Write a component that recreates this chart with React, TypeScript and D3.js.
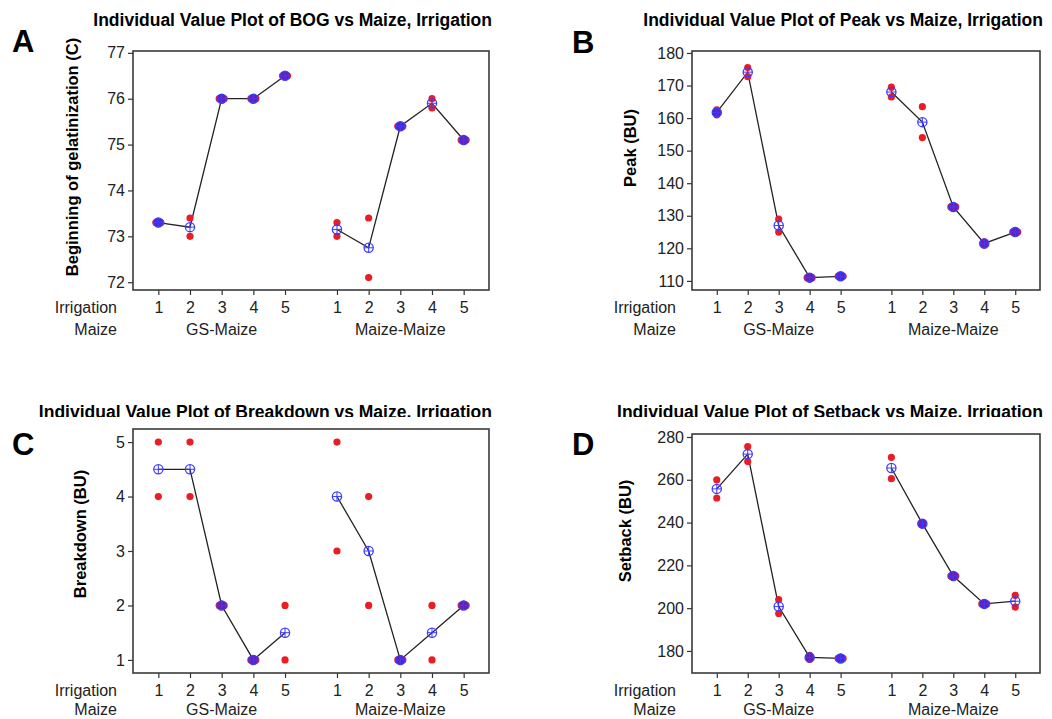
import React, { useRef, useEffect } from "react";
import * as d3 from "d3";

// category labels
const irrigation = ["1", "2", "3", "4", "5"];
const maizeGroups = ["GS-Maize", "Maize-Maize"];

// replicate values for each irrigation level (two replicates)
const bogGS = [[73.3, 73.3], [73.4, 73.0], [76.0, 76.0], [76.0, 76.0], [76.5, 76.5]];
const bogMM = [[73.3, 73.0], [73.4, 72.1], [75.4, 75.4], [76.0, 75.8], [75.1, 75.1]];
const bogTicks = [72, 73, 74, 75, 76, 77];

const peakGS = [[162.5, 161], [175.5, 172.7], [129, 125], [111, 111], [111.4, 111.4]];
const peakMM = [[169.5, 166.5], [163.5, 154], [132.7, 132.7], [122, 121], [125, 125]];
const peakTicks = [110, 120, 130, 140, 150, 160, 170, 180];

const breakdownGS = [[5, 4], [5, 4], [2, 2], [1, 1], [2, 1]];
const breakdownMM = [[5, 3], [4, 2], [1, 1], [2, 1], [2, 2]];
const breakdownTicks = [1, 2, 3, 4, 5];

const setbackGS = [[260, 251.5], [275.5, 268.5], [204, 197.5], [178, 176], [176.5, 176.5]];
const setbackMM = [[270.5, 260.5], [240, 239], [215, 215], [202, 202], [206, 200.5]];
const setbackTicks = [180, 200, 220, 240, 260, 280];

type Box = { x0: number; x1: number; y0: number; y1: number };
type Panel = {
    letter: string;
    title: string;
    ylabel: string;
    groups: number[][][];
    ticks: number[];
    domain: [number, number];
    box: Box;
    titleY: number;
    letterPos: [number, number];
    ylabelPos: [number, number];
    clipTitle: boolean;
    rowGap: number;
};

const panels: Panel[] = [
    {
        letter: "A", title: "Individual Value Plot of BOG vs Maize, Irrigation",
        ylabel: "Beginning of gelatinization (C)", groups: [bogGS, bogMM], ticks: bogTicks,
        domain: [71.83, 77.04], box: { x0: 133, x1: 489, y0: 51, y1: 290 },
        titleY: 26, letterPos: [12, 52], ylabelPos: [72, 157], clipTitle: false, rowGap: 45,
    },
    {
        letter: "B", title: "Individual Value Plot of Peak vs Maize, Irrigation",
        ylabel: "Peak (BU)", groups: [peakGS, peakMM], ticks: peakTicks,
        domain: [107.2, 180.6], box: { x0: 692, x1: 1040, y0: 51, y1: 290 },
        titleY: 26, letterPos: [572, 53], ylabelPos: [630, 148], clipTitle: false, rowGap: 45,
    },
    {
        letter: "C", title: "Individual Value Plot of Breakdown vs Maize, Irrigation",
        ylabel: "Breakdown (BU)", groups: [breakdownGS, breakdownMM], ticks: breakdownTicks,
        domain: [0.76, 5.24], box: { x0: 133, x1: 489, y0: 429, y1: 673 },
        titleY: 418, letterPos: [12, 455], ylabelPos: [80, 534], clipTitle: true, rowGap: 42,
    },
    {
        letter: "D", title: "Individual Value Plot of Setback vs Maize, Irrigation",
        ylabel: "Setback (BU)", groups: [setbackGS, setbackMM], ticks: setbackTicks,
        domain: [169.7, 281.4], box: { x0: 692, x1: 1040, y0: 434, y1: 673 },
        titleY: 418, letterPos: [572, 455], ylabelPos: [625, 531], clipTitle: true, rowGap: 42,
    },
];

const FONT = "'Liberation Sans', Arial, sans-serif";
const GROUP_STEP = 5.64; // gap between the two maize groups, in slot units

const App = () => {
    const svgRef = useRef<SVGSVGElement>(null);

    useEffect(() => {
        const svg = d3.select(svgRef.current);
        svg.selectAll("*").remove();

        svg.append("rect").attr("width", 1052).attr("height", 719).attr("fill", "#fff");

        // clip for the bottom titles, which are cut at their baseline
        svg.append("defs").append("clipPath").attr("id", "titleClip")
            .append("rect").attr("x", 0).attr("y", 380).attr("width", 1052).attr("height", 37);

        panels.forEach(p => drawPanel(svg, p));
    }, []);

    const drawPanel = (svg: any, p: Panel) => {
        const b = p.box;
        const x = d3.scaleLinear().domain([-0.8, 4 + GROUP_STEP + 0.8]).range([b.x0, b.x1]);
        const y = d3.scaleLinear().domain(p.domain).range([b.y1, b.y0]);
        const slot = (g: number, i: number) => g * GROUP_STEP + i;

        const g = svg.append("g");

        // letter
        g.append("text")
            .attr("x", p.letterPos[0]).attr("y", p.letterPos[1])
            .attr("font-family", FONT).attr("font-weight", "bold").attr("font-size", 31)
            .attr("fill", "#000").text(p.letter);

        // title
        g.append("text")
            .attr("x", b.x1 + 3).attr("y", p.titleY)
            .attr("text-anchor", "end")
            .attr("font-family", FONT).attr("font-weight", "bold").attr("font-size", 17.5)
            .attr("fill", "#000")
            .attr("clip-path", p.clipTitle ? "url(#titleClip)" : null)
            .text(p.title);

        // y label
        g.append("text")
            .attr("transform", `translate(${p.ylabelPos[0]},${p.ylabelPos[1]}) rotate(-90)`)
            .attr("text-anchor", "middle")
            .attr("dominant-baseline", "central")
            .attr("font-family", FONT).attr("font-weight", "bold").attr("font-size", 16.5)
            .attr("fill", "#000").text(p.ylabel);

        // y axis
        const yAxis = g.append("g")
            .attr("transform", `translate(${b.x0},0)`)
            .call(d3.axisLeft(y).tickValues(p.ticks).tickFormat(d3.format("d"))
                .tickSize(5).tickPadding(3).tickSizeOuter(0));
        yAxis.select(".domain").remove();
        yAxis.attr("font-family", FONT).attr("font-size", 16);
        yAxis.selectAll("line").attr("stroke", "#333").attr("stroke-width", 1.2);
        yAxis.selectAll("text").attr("fill", "#222");

        // x axis (irrigation levels in both maize groups)
        const slots = p.groups.flatMap((_, gi) => irrigation.map((_, i) => slot(gi, i)));
        const xAxis = g.append("g")
            .attr("transform", `translate(0,${b.y1})`)
            .call(d3.axisBottom(x).tickValues(slots).tickSize(5).tickPadding(6.6)
                .tickFormat((_, i) => irrigation[i % irrigation.length]));
        xAxis.select(".domain").remove();
        xAxis.attr("font-family", FONT).attr("font-size", 16);
        xAxis.selectAll("line").attr("stroke", "#333").attr("stroke-width", 1.2);
        xAxis.selectAll("text").attr("fill", "#222");

        // row labels
        g.append("text")
            .attr("x", b.x0 - 16).attr("y", b.y1 + 23)
            .attr("text-anchor", "end").attr("font-family", FONT).attr("font-size", 16)
            .attr("fill", "#222").text("Irrigation");
        g.append("text")
            .attr("x", b.x0 - 16).attr("y", b.y1 + p.rowGap)
            .attr("text-anchor", "end").attr("font-family", FONT).attr("font-size", 16)
            .attr("fill", "#222").text("Maize");
        maizeGroups.forEach((name, gi) => {
            g.append("text")
                .attr("x", x(slot(gi, 2))).attr("y", b.y1 + p.rowGap)
                .attr("text-anchor", "middle").attr("font-family", FONT).attr("font-size", 16)
                .attr("fill", "#222").text(name);
        });

        // frame
        g.append("rect")
            .attr("x", b.x0).attr("y", b.y0)
            .attr("width", b.x1 - b.x0).attr("height", b.y1 - b.y0)
            .attr("fill", "none").attr("stroke", "#3a3a3a").attr("stroke-width", 1.6);

        p.groups.forEach((levels, gi) => {
            const means = levels.map((vals, i) => ({ s: slot(gi, i), m: d3.mean(vals) as number, vals }));

            // mean connect line
            const line = d3.line<any>().x(d => x(d.s)).y(d => y(d.m));
            g.append("path")
                .datum(means)
                .attr("d", line)
                .attr("fill", "none")
                .attr("stroke", "#222")
                .attr("stroke-width", 1.3);

            // individual values
            means.forEach(d => {
                d.vals.forEach((v, k) => {
                    const dup = d.vals.filter(w => w === v).length > 1;
                    const off = dup ? (k === 0 ? -2.5 : 2.5) : 0;
                    g.append("circle")
                        .attr("cx", x(d.s) + off).attr("cy", y(v))
                        .attr("r", 3.6)
                        .attr("fill", "#ec1c24");
                });
            });

            // mean symbols
            means.forEach(d => {
                const cx = x(d.s), cy = y(d.m);
                const covered = d.vals.some(v => Math.abs(y(v) - cy) < 3.5);
                g.append("circle")
                    .attr("cx", cx).attr("cy", cy).attr("r", 4.6)
                    .attr("fill", covered ? "#6420b8" : "none")
                    .attr("stroke", "#3c3cff").attr("stroke-width", 1.3);
                g.append("line")
                    .attr("x1", cx - 4.6).attr("x2", cx + 4.6).attr("y1", cy).attr("y2", cy)
                    .attr("stroke", "#3c3cff").attr("stroke-width", 1);
                g.append("line")
                    .attr("x1", cx).attr("x2", cx).attr("y1", cy - 4.6).attr("y2", cy + 4.6)
                    .attr("stroke", "#3c3cff").attr("stroke-width", 1);
            });
        });
    };

    return (
        <div style={{ position: "absolute", left: 0, top: 0 }}>
            <svg ref={svgRef} width={1052} height={719} style={{ display: "block" }}></svg>
        </div>
    );
};

export default App;
